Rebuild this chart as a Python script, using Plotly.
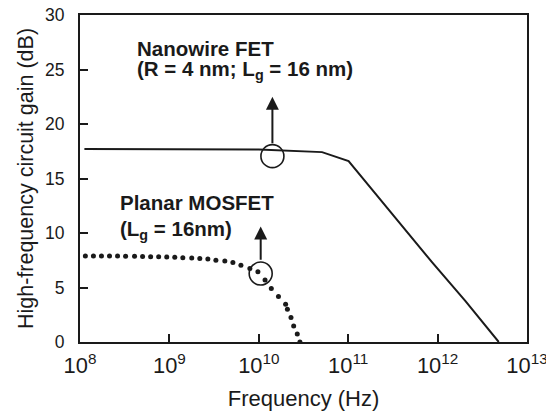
import numpy as np
import plotly.graph_objects as go

# ---- data ----
nw_freq = [1.12e8, 1.0e9, 1.0e10, 5.1e10, 1.01e11, 8.7e11, 2.04e12, 4.83e12]
nw_gain = [17.7, 17.7, 17.67, 17.42, 16.59, 7.3, 3.77, 0.0]

mos_freq = [1.148e8, 1.413e8, 1.738e8, 2.138e8, 2.63e8, 3.236e8, 4.074e8, 5.012e8,
            6.166e8, 7.586e8, 9.333e8, 1.148e9, 1.413e9, 1.778e9, 2.188e9, 2.692e9,
            3.311e9, 4.169e9, 5.129e9, 6.31e9, 7.943e9, 9.772e9, 1.175e10, 1.38e10,
            1.66e10, 1.995e10, 2.089e10, 2.291e10, 2.455e10, 2.692e10, 2.884e10]
mos_gain = [7.9, 7.9, 7.9, 7.89, 7.88, 7.87, 7.86, 7.85,
            7.83, 7.81, 7.79, 7.77, 7.74, 7.71, 7.67, 7.62,
            7.5, 7.42, 7.3, 7.05, 6.75, 6.45, 5.68, 4.91,
            4.17, 3.47, 3.01, 2.24, 1.47, 0.74, 0.0]

# highlighted points (circles) and arrow tips
circle_freq = [1.42e10, 1.05e10]
circle_gain = [17.05, 6.28]
arrow_base = [18.1, 7.4]
arrow_tip = [22.5, 10.6]

labels = [
    ("Nanowire FET", 4.13e8, 26.9),
    ("(R = 4 nm; L<sub>g</sub> = 16 nm)", 4.13e8, 24.95),
    ("Planar MOSFET", 2.68e8, 12.8),
    ("(L<sub>g</sub> = 16nm)", 2.68e8, 10.3),
]

x_title = "Frequency (Hz)"
y_title = "High-frequency circuit gain (dB)"

FONT = "Liberation Sans, Arial, Helvetica, sans-serif"
INK = "#1a1a1a"

fig = go.Figure()
fig.add_trace(go.Scatter(x=nw_freq, y=nw_gain, mode="lines",
                         line=dict(color=INK, width=2), showlegend=False))
fig.add_trace(go.Scatter(x=mos_freq, y=mos_gain, mode="markers",
                         marker=dict(color=INK, size=5), showlegend=False))
fig.add_trace(go.Scatter(x=circle_freq, y=circle_gain, mode="markers",
                         marker=dict(symbol="circle-open", size=23,
                                     color=INK, line=dict(width=1.6, color=INK)),
                         showlegend=False))

for f, b, t in zip(circle_freq, arrow_base, arrow_tip):
    lx = float(np.log10(f))
    fig.add_annotation(x=lx, y=t, ax=lx, ay=b, xref="x", yref="y",
                       axref="x", ayref="y", text="", showarrow=True,
                       arrowhead=2, arrowsize=1.3, arrowwidth=2, arrowcolor=INK)

for txt, f, g in labels:
    fig.add_annotation(x=float(np.log10(f)), y=g, xref="x", yref="y",
                       text="<b>" + txt + "</b>", showarrow=False,
                       xanchor="left", yanchor="middle",
                       font=dict(family=FONT, size=20.5, color=INK))

fig.update_layout(
    width=546, height=414,
    margin=dict(l=80, r=19, t=15, b=72),
    paper_bgcolor="white", plot_bgcolor="white",
    font=dict(family=FONT, color=INK),
)
fig.update_xaxes(type="log", range=[8, 13], dtick=1, exponentformat="power",
                 showexponent="all", showgrid=False, zeroline=False,
                 showline=True, linecolor=INK, linewidth=2, mirror=True,
                 ticks="inside", ticklen=8, tickwidth=1.5, tickcolor=INK,
                 tickfont=dict(size=17.5, family=FONT, color=INK),
                 ticklabelstandoff=4, ticklabeloverflow="allow", automargin=False,
                 title=dict(text=x_title, font=dict(size=22, family=FONT, color=INK),
                            standoff=13))
fig.update_yaxes(range=[0, 30], dtick=5, showgrid=False, zeroline=False,
                 showline=True, linecolor=INK, linewidth=2, mirror=True,
                 ticks="inside", ticklen=8, tickwidth=1.5, tickcolor=INK,
                 tickfont=dict(size=17.5, family=FONT, color=INK),
                 ticklabelstandoff=10, automargin=False,
                 title=dict(text=y_title, font=dict(size=21.5, family=FONT, color=INK),
                            standoff=6))

fig.write_html("out.html")
